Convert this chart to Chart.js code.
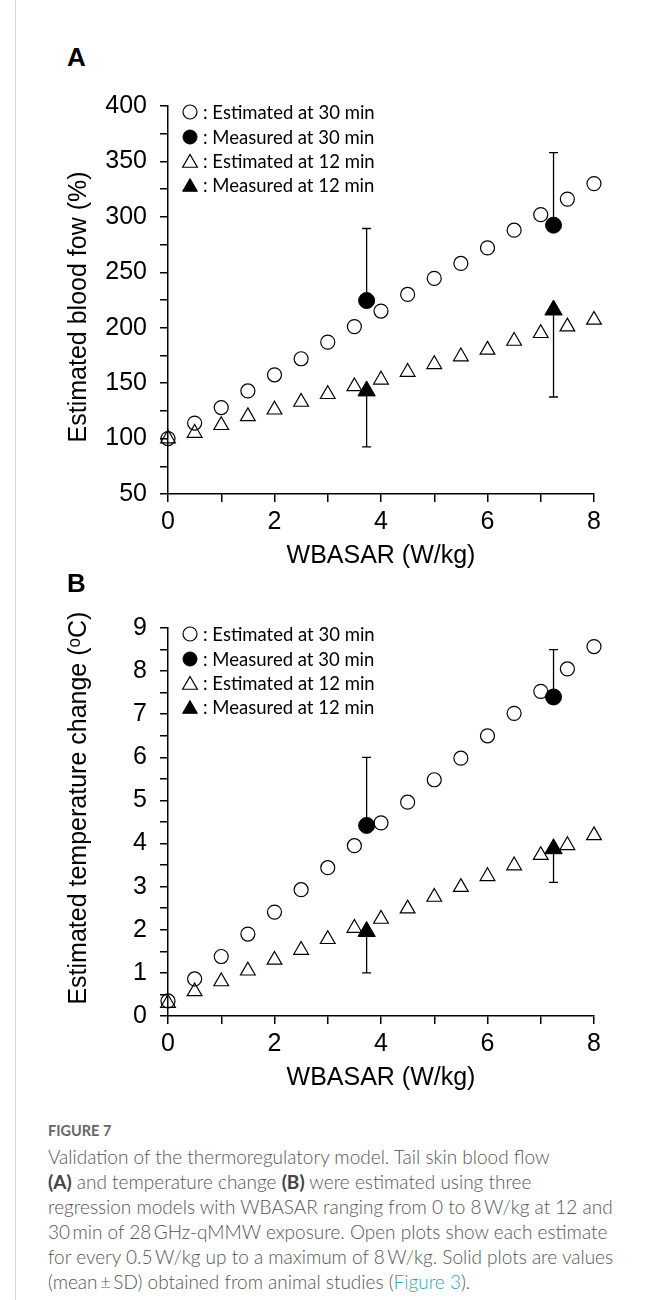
<!DOCTYPE html>
<html lang="en">
<head>
<meta charset="UTF-8">
<title>Figure 7 - Validation of the thermoregulatory model</title>
<script src="https://cdn.jsdelivr.net/npm/chart.js@4.4.1/dist/chart.umd.min.js"></script>
<style>
body {
	margin: 0;
	background: #fff;
}

.page {
	position: relative;
	width: 655px;
	height: 1300px;
	overflow: hidden;
}

.rule {
	position: absolute;
	left: 15px;
	top: 0;
	width: 1px;
	height: 1300px;
	background: #d6d6d6;
}

.panel {
	position: absolute;
	left: 67px;
	font: bold 26px "Liberation Sans", Arial, sans-serif;
	color: #000;
	line-height: 30px;
}

.box {
	position: absolute;
	left: 0;
	width: 655px;
}

.caption {
	position: absolute;
	left: 48px;
	top: 1121px;
	color: #555;
	font-family: Lato, "Open Sans", sans-serif;
	white-space: nowrap;
}

.caption .fig {
	font-size: 14.5px;
	font-weight: 700;
	line-height: 20px;
	color: #666;
}

.caption .txt {
	font-size: 19px;
	font-weight: 300;
	line-height: 25px;
	margin-top: 3px;
}

.caption b {
	font-weight: 700;
	color: #444;
}

.caption a {
	color: #1fa3c4;
	text-decoration: none;
}
</style>
</head>
<body>
<div class="page">
	<div class="rule"></div>
	<div class="panel" style="top:42px">A</div>
	<div class="box" style="top:0;height:580px"><canvas id="chartA" width="655" height="580"></canvas></div>
	<div class="panel" style="top:568px">B</div>
	<div class="box" style="top:580px;height:520px"><canvas id="chartB" width="655" height="520"></canvas></div>
	<div class="caption">
		<div class="fig">FIGURE 7</div>
		<div class="txt">
			Validation of the thermoregulatory model. Tail skin blood flow<br>
			<b>(A)</b> and temperature change <b>(B)</b> were estimated using three<br>
			regression models with WBASAR ranging from 0 to 8&thinsp;W/kg at 12 and<br>
			30&thinsp;min of 28&thinsp;GHz-qMMW exposure. Open plots show each estimate<br>
			for every 0.5&thinsp;W/kg up to a maximum of 8&thinsp;W/kg. Solid plots are values<br>
			(mean&thinsp;&plusmn;&thinsp;SD) obtained from animal studies (<a href="#">Figure 3</a>).
		</div>
	</div>
</div>
<script>
// WBASAR steps for the model estimates (W/kg)
const sarSteps = [0, 0.5, 1, 1.5, 2, 2.5, 3, 3.5, 4, 4.5, 5, 5.5, 6, 6.5, 7, 7.5, 8];
// WBASAR of the animal measurements
const sarMeasured = [3.73, 7.24];

// panel A: blood flow (%)
const flowEst30 = [100, 114, 128, 143, 157.5, 172, 187, 201, 215, 230, 244.5, 258, 272, 288, 302, 316, 330];
const flowEst12 = [100, 105, 112, 120, 126, 133, 140, 147, 153, 160, 167, 174, 180, 188, 195, 201, 207];
const flowMeas30 = [224.5, 292.5];
const flowSd30 = [65, 65.5];
const flowMeas12 = [143, 216];
const flowSd12 = [50.5, 78.5];

// panel B: temperature change (oC)
const tempEst30 = [0.35, 0.86, 1.38, 1.9, 2.41, 2.93, 3.44, 3.95, 4.48, 4.96, 5.48, 5.98, 6.5, 7.02, 7.53, 8.05, 8.57];
const tempEst12 = [0.3, 0.57, 0.8, 1.05, 1.3, 1.53, 1.78, 2.04, 2.25, 2.49, 2.76, 2.99, 3.24, 3.49, 3.73, 3.96, 4.19];
const tempMeas30 = [4.42, 7.4];
const tempSd30 = [1.58, 1.1];
const tempMeas12 = [1.96, 3.88];
const tempSd12 = [0.96, 0.78];

const xTicks = [0, 2, 4, 6, 8];
const legendNames = ['Estimated at 30 min', 'Measured at 30 min', 'Estimated at 12 min', 'Measured at 12 min'];

const axisFont = { family: '"Liberation Sans", Arial, sans-serif', size: 25, lineHeight: 1.2 };

function pts(xs, ys) {
	return xs.map((x, i) => ({ x: x, y: ys[i] }));
}

// open/filled markers; legend order is kept in legendIndex
function buildDatasets(est30, meas30, sd30, est12, meas12, sd12) {
	return [
		{
			label: legendNames[1], legendIndex: 1, data: pts(sarMeasured, meas30), clip: false,
			pointStyle: 'circle', pointRadius: 8, pointBorderWidth: 1,
			pointBackgroundColor: '#000', pointBorderColor: '#000',
			sd: sd30, errDir: 1
		},
		{
			label: legendNames[3], legendIndex: 3, data: pts(sarMeasured, meas12), clip: false,
			pointStyle: 'triangle', pointRadius: 10, pointBorderWidth: 1,
			pointBackgroundColor: '#000', pointBorderColor: '#000',
			sd: sd12, errDir: -1
		},
		{
			label: legendNames[0], legendIndex: 0, data: pts(sarSteps, est30), clip: false,
			pointStyle: 'circle', pointRadius: 7, pointBorderWidth: 1.2,
			pointBackgroundColor: 'rgba(255,255,255,0)', pointBorderColor: '#000'
		},
		{
			label: legendNames[2], legendIndex: 2, data: pts(sarSteps, est12), clip: false,
			pointStyle: 'triangle', pointRadius: 8.5, pointBorderWidth: 1.2,
			pointBackgroundColor: 'rgba(255,255,255,0)', pointBorderColor: '#000'
		}
	];
}

const errorBars = {
	id: 'errorBars',
	beforeDatasetsDraw(chart) {
		const ctx = chart.ctx;
		const xs = chart.scales.x, ys = chart.scales.y;
		ctx.save();
		ctx.strokeStyle = '#000';
		ctx.lineWidth = 1.3;
		chart.data.datasets.forEach(ds => {
			if (!ds.sd) return;
			ds.data.forEach((p, i) => {
				const px = xs.getPixelForValue(p.x);
				const py = ys.getPixelForValue(p.y);
				const pe = ys.getPixelForValue(p.y + ds.errDir * ds.sd[i]);
				ctx.beginPath();
				ctx.moveTo(px, py);
				ctx.lineTo(px, pe);
				ctx.moveTo(px - 4.5, pe);
				ctx.lineTo(px + 4.5, pe);
				ctx.stroke();
			});
		});
		ctx.restore();
	}
};

const keyLegend = {
	id: 'keyLegend',
	afterDraw(chart) {
		const ctx = chart.ctx;
		const top = chart.chartArea.top;
		const rowY = [6, 31, 55, 79];
		const sorted = chart.data.datasets.slice().sort((a, b) => a.legendIndex - b.legendIndex);
		ctx.save();
		sorted.forEach((ds, i) => {
			const y = top + rowY[i];
			ctx.fillStyle = ds.pointBackgroundColor;
			ctx.strokeStyle = ds.pointBorderColor;
			ctx.lineWidth = ds.pointBorderWidth;
			const r = ds.pointStyle === 'triangle' ? 8.5 : 7;
			Chart.helpers.drawPoint(ctx, { pointStyle: ds.pointStyle, radius: r, rotation: 0, borderWidth: ds.pointBorderWidth }, 190, y + (ds.pointStyle === 'triangle' ? 2 : 0));
			ctx.fillStyle = '#000';
			ctx.font = '18.5px Lato, "Open Sans", sans-serif';
			ctx.textAlign = 'left';
			ctx.textBaseline = 'middle';
			ctx.fillText(': ' + ds.label, 203, y + 1);
		});
		ctx.restore();
	}
};

function makeChart(id, datasets, yMin, yMax, yStep, yTitle, pad) {
	const ctx = document.getElementById(id).getContext('2d');
	return new Chart(ctx, {
		type: 'scatter',
		data: { datasets: datasets },
		options: {
			responsive: false,
			animation: false,
			devicePixelRatio: 1,
			events: [],
			layout: { padding: pad },
			plugins: {
				legend: { display: false },
				tooltip: { enabled: false }
			},
			scales: {
				x: {
					type: 'linear',
					min: 0,
					max: 8,
					afterBuildTicks: s => { s.ticks = sarSteps.filter(v => Number.isInteger(v)).map(v => ({ value: v })); },
					ticks: {
						autoSkip: false,
						maxRotation: 0,
						padding: 5,
						color: '#000',
						font: axisFont,
						callback: v => xTicks.includes(v) ? String(v) : ''
					},
					grid: { display: true, drawOnChartArea: false, drawTicks: true, tickLength: 8, color: '#000', tickColor: '#000', lineWidth: 1.5 },
					border: { display: true, color: '#000', width: 1.5 },
					title: { display: true, text: 'WBASAR (W/kg)', color: '#000', font: axisFont, padding: { top: 0, bottom: 3 } },
					afterFit: s => { s.height = 80; }
				},
				y: {
					type: 'linear',
					min: yMin,
					max: yMax,
					ticks: {
						stepSize: yStep,
						autoSkip: false,
						padding: 13,
						color: '#000',
						font: axisFont,
						callback: v => (Math.abs(v / (yStep * 2) - Math.round(v / (yStep * 2))) < 1e-6) ? String(v) : ''
					},
					grid: { display: true, drawOnChartArea: false, drawTicks: true, tickLength: 8, color: '#000', tickColor: '#000', lineWidth: 1.5 },
					border: { display: true, color: '#000', width: 1.5 },
					title: { display: true, text: yTitle, color: '#000', font: axisFont, padding: { top: 10, bottom: 0 } },
					afterFit: s => { s.width = 114; }
				}
			}
		},
		plugins: [errorBars, keyLegend]
	});
}

makeChart('chartA',
	buildDatasets(flowEst30, flowMeas30, flowSd30, flowEst12, flowMeas12, flowSd12),
	50, 400, 25, 'Estimated blood fow (%)  ',
	{ left: 54, top: 106, right: 61, bottom: 6 });

makeChart('chartB',
	buildDatasets(tempEst30, tempMeas30, tempSd30, tempEst12, tempMeas12, tempSd12),
	0, 9, 0.5, '    Estimated temperature change (\u1D52C)',
	{ left: 54, top: 48, right: 61, bottom: 4 });
</script>
</body>
</html>
